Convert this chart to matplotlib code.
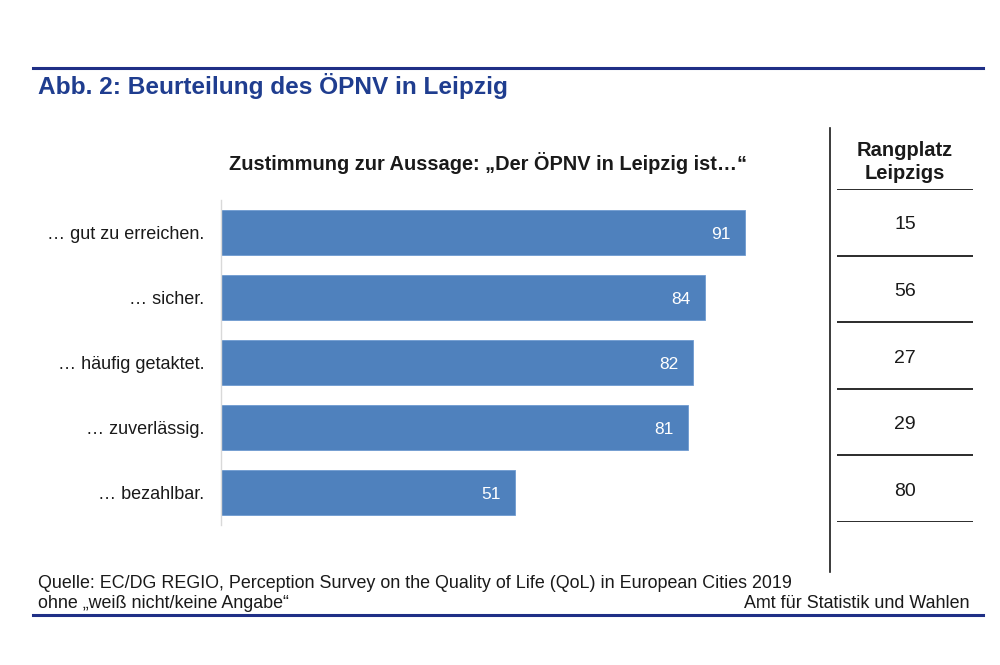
import matplotlib
matplotlib.use("Agg")
import matplotlib.pyplot as plt
from matplotlib.lines import Line2D

plt.rcParams['font.family'] = ['Liberation Sans', 'DejaVu Sans']

categories = ["… gut zu erreichen.", "… sicher.", "… häufig getaktet.", "… zuverlässig.", "… bezahlbar."]
values = [91, 84, 82, 81, 51]
ranks = [15, 56, 27, 29, 80]

W, H = 1000, 665
fig = plt.figure(figsize=(W / 100, H / 100), dpi=100)

def fx(x):
    return x / W

def fy(y):
    return 1 - y / H

bar_color = "#4F81BD"
navy = "#1F2F86"
title_color = "#1F3D8F"
txt = "#1a1a1a"

# Bar axes: x 221..797 px, y 200..525 px
ax = fig.add_axes([fx(221), fy(525), fx(797) - fx(221), fy(200) - fy(525)])
ypos = list(range(len(categories)))
ax.barh(ypos, values, height=0.69, color=bar_color, edgecolor="#6F9AD0", linewidth=0.6)
ax.set_xlim(0, 100)
ax.set_ylim(len(categories) - 0.5, -0.5)
for s in ["top", "right", "bottom"]:
    ax.spines[s].set_visible(False)
ax.spines["left"].set_color("#D9D9D9")
ax.spines["left"].set_linewidth(1.0)
ax.set_xticks([])
ax.set_yticks(ypos)
ax.set_yticklabels(categories, fontsize=13, color=txt)
ax.tick_params(axis="y", length=0, pad=12)
for y, v in zip(ypos, values):
    ax.text(v - 2.5, y + 0.03, str(v), ha="right", va="center", color="white", fontsize=12.5)

# Table axes
tax = fig.add_axes([fx(837), fy(522), fx(973) - fx(837), fy(189) - fy(522)])
tax.set_xlim(0, 1)
tax.set_ylim(len(ranks), 0)
tax.axis("off")
for i in range(len(ranks) + 1):
    tax.axhline(i, color=txt, linewidth=1.3)
for i, r in enumerate(ranks):
    tax.text(0.5, i + 0.54, str(r), ha="center", va="center", fontsize=14, color=txt)

# vertical separator
fig.add_artist(Line2D([fx(830), fx(830)], [fy(128), fy(572)], color=txt, linewidth=1.2))

# Header
fig.text(fx(905), fy(162), "Rangplatz\nLeipzigs", ha="center", va="center", fontsize=14.5,
         fontweight="bold", color=txt, linespacing=1.3)

# Title lines
fig.add_artist(Line2D([fx(33), fx(983)], [fy(68), fy(68)], color=navy, linewidth=2.2))
fig.add_artist(Line2D([fx(33), fx(983)], [fy(615), fy(615)], color=navy, linewidth=2.2))

fig.text(fx(38), fy(86), "Abb. 2: Beurteilung des ÖPNV in Leipzig", ha="left", va="center",
         fontsize=17.6, fontweight="bold", color=title_color)

fig.text(fx(488), fy(163), "Zustimmung zur Aussage: „Der ÖPNV in Leipzig ist…“", ha="center",
         va="center", fontsize=14.4, fontweight="bold", color=txt)

fig.text(fx(38), fy(583), "Quelle: EC/DG REGIO, Perception Survey on the Quality of Life (QoL) in European Cities 2019",
         ha="left", va="center", fontsize=12.9, color=txt)
fig.text(fx(38), fy(604), "ohne „weiß nicht/keine Angabe“", ha="left", va="center", fontsize=12.9, color=txt)
fig.text(fx(970), fy(604), "Amt für Statistik und Wahlen", ha="right", va="center", fontsize=12.9, color=txt)

fig.savefig("out.png", dpi=100, facecolor="white")
